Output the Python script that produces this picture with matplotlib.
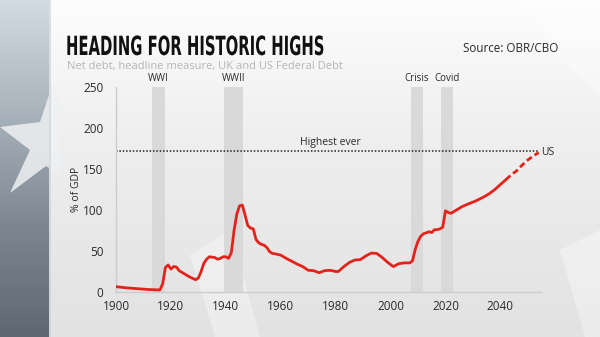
import numpy as np
import matplotlib
matplotlib.use("Agg")
import matplotlib.pyplot as plt
from matplotlib.patches import Polygon, Rectangle
from matplotlib.patheffects import AbstractPathEffect
from matplotlib.transforms import Affine2D

# ---- data -------------------------------------------------------------
years = [1900, 1904, 1908, 1912, 1916, 1917, 1918, 1919, 1920, 1921, 1922,
         1923, 1925, 1927, 1929, 1930, 1931, 1932, 1933, 1934, 1936, 1937,
         1938, 1939, 1940, 1941, 1942, 1943, 1944, 1945, 1946, 1947, 1948,
         1949, 1950, 1951, 1952, 1953, 1954, 1955, 1956, 1957, 1958, 1960,
         1962, 1964, 1966, 1968, 1970, 1972, 1974, 1976, 1978, 1980, 1981,
         1983, 1985, 1987, 1989, 1991, 1993, 1995, 1997, 1999, 2001, 2003,
         2005, 2007, 2008, 2009, 2010, 2011, 2012, 2014, 2015, 2016, 2017,
         2018, 2019, 2020, 2021, 2022, 2024, 2026, 2028, 2031, 2034, 2036,
         2038, 2040, 2042, 2044, 2046, 2048, 2050, 2052, 2054]
debt = [6.5, 5.0, 4.0, 3.0, 2.5, 10.0, 30.0, 33.0, 28.0, 31.0, 30.5,
        26.0, 22.0, 18.0, 15.0, 17.0, 25.0, 35.0, 40.0, 43.0, 42.0, 40.0,
        41.0, 43.0, 43.0, 41.0, 48.0, 75.0, 95.0, 105.0, 106.0, 94.0, 81.0,
        78.0, 77.0, 64.0, 60.0, 58.0, 57.0, 54.0, 49.0, 47.0, 46.5, 45.0,
        41.0, 37.5, 34.0, 31.0, 26.5, 26.0, 23.5, 26.0, 26.5, 25.0, 25.0,
        31.0, 36.0, 39.0, 39.5, 44.0, 47.5, 47.0, 42.0, 36.0, 31.0, 34.5,
        35.5, 35.5, 38.0, 52.0, 62.0, 68.0, 71.0, 73.5, 72.5, 76.0, 76.0,
        77.0, 79.0, 99.0, 97.0, 96.0, 100.0, 104.0, 107.0, 111.0, 116.0, 120.0,
        125.0, 131.0, 137.0, 143.0, 148.0, 155.0, 161.0, 166.0, 170.0]
projection_from = 2042

highest_ever = 172

event_names = ["WWI", "WWII", "Crisis", "Covid"]
event_start = [1913, 1939.3, 2007.5, 2018.4]
event_end = [1917.8, 1946.3, 2011.7, 2022.6]

y_ticks = [0, 50, 100, 150, 200, 250]
x_ticks = [1900, 1920, 1940, 1960, 1980, 2000, 2020, 2040]

title = "HEADING FOR HISTORIC HIGHS"
subtitle = "Net debt, headline measure, UK and US Federal Debt"
source = "Source: OBR/CBO"

W, H = 600, 337
RED = "#e3231b"
TXT = "#2a2a2a"
FONT = "Open Sans"


class FitBox(AbstractPathEffect):
    """Draw text stretched to a fixed pixel width and cap height (condensed look)."""

    def __init__(self, width_px, height_px):
        super().__init__()
        self.width_px = width_px
        self.height_px = height_px

    def draw_path(self, renderer, gc, tpath, affine, rgbFace=None):
        ext = tpath.get_extents(affine)
        sx = self.width_px / ext.width
        sy = self.height_px / ext.height
        renderer.draw_path(gc, tpath, Affine2D().scale(sx, sy) + affine, rgbFace)


fig = plt.figure(figsize=(W / 100, H / 100), dpi=100)

# ---- background: dark strip on the left, light card on the right ------
bg = fig.add_axes([0, 0, 1, 1], zorder=-10)
bg.set_xlim(0, W)
bg.set_ylim(H, 0)
bg.axis("off")

strip = np.linspace(0, 1, 256).reshape(-1, 1)
strip_cmap = matplotlib.colors.LinearSegmentedColormap.from_list(
    "strip", ["#d3dbe2", "#a9b3bc", "#7c8791", "#5d6872"])
bg.imshow(strip, cmap=strip_cmap, extent=[0, 49, H, 0], aspect="auto")
star = Polygon([(52, 86), (40, 122), (0, 127), (30, 150), (10, 193),
                (46, 166), (60, 175), (60, 100)],
               closed=True, facecolor="#eef1f3", edgecolor="none", alpha=0.85)
bg.add_patch(star)

card_cmap = matplotlib.colors.LinearSegmentedColormap.from_list(
    "card", ["#fdfdfd", "#f1f1f1", "#e9e9e9", "#e2e2e2"])
bg.imshow(strip, cmap=card_cmap, extent=[49, W, H, 0], aspect="auto")
bg.add_patch(Rectangle((49, 0), 2, H, facecolor="#c9ced2", edgecolor="none", alpha=0.6))
# faint decorative shards on the card
for pts in ([(520, 0), (600, 0), (600, 95), (560, 60)],
            [(560, 250), (600, 230), (600, 337), (585, 337)],
            [(190, 255), (230, 230), (260, 337), (215, 337)]):
    bg.add_patch(Polygon(pts, closed=True, facecolor="white", edgecolor="none", alpha=0.35))

# ---- header texts ------------------------------------------------------
fig.text(66 / W, 1 - 55 / H, title, fontsize=11, fontweight="bold",
         family="DejaVu Sans", color="#111111", ha="left", va="baseline",
         path_effects=[FitBox(256, 20)])
fig.text(67 / W, 1 - 66 / H, subtitle, fontsize=8.0, family=FONT,
         color="#b5b5b5", ha="left", va="center")
fig.text(558 / W, 1 - 48 / H, source, fontsize=8.4, family=FONT,
         color=TXT, ha="right", va="center")

# ---- chart ---------------------------------------------------------------
ax = fig.add_axes([116 / W, 45 / H, (541 - 116) / W, 205 / H])
ax.set_facecolor("none")
ax.set_xlim(1900, 2054.8)
ax.set_ylim(0, 250)

for name, s, e in zip(event_names, event_start, event_end):
    ax.axvspan(s, e, ymin=0, ymax=1, facecolor="#d9d9d9", edgecolor="none", zorder=1)
    ax.text((s + e) / 2, 254, name, ha="center", va="bottom", fontsize=7,
            family=FONT, color=TXT, clip_on=False)

ax.axhline(highest_ever, xmin=0, xmax=(2054 - 1900) / 154.8, color="#222222",
           linestyle=(0, (1, 1.2)), linewidth=1.1, zorder=2)
ax.text(1978, highest_ever + 3, "Highest ever", ha="center", va="bottom",
        fontsize=7.5, family=FONT, color=TXT)
ax.text(2055, highest_ever - 2, "US", ha="left", va="center", fontsize=7.5,
        family=FONT, color=TXT, clip_on=False)

yr = np.array(years, dtype=float)
val = np.array(debt, dtype=float)
hist = yr <= projection_from
proj = yr >= projection_from
ax.plot(yr[hist], val[hist], color=RED, linewidth=2.0, solid_capstyle="round",
        solid_joinstyle="round", zorder=3)
ax.plot(yr[proj], val[proj], color=RED, linewidth=2.0, linestyle=(0, (2.2, 1.2)),
        zorder=3)

ax.set_yticks(y_ticks)
ax.set_xticks(x_ticks)
ax.tick_params(length=0, labelsize=8.5, colors=TXT, pad=6)
ax.tick_params(axis="y", pad=9)
for lab in ax.get_xticklabels() + ax.get_yticklabels():
    lab.set_family(FONT)
ax.set_ylabel("% of GDP", fontsize=7.5, family=FONT, color=TXT, labelpad=1)

for side in ("top", "right"):
    ax.spines[side].set_visible(False)
for side in ("left", "bottom"):
    ax.spines[side].set_color("#cccccc")
    ax.spines[side].set_linewidth(1.0)

fig.savefig("out.png", dpi=100)
